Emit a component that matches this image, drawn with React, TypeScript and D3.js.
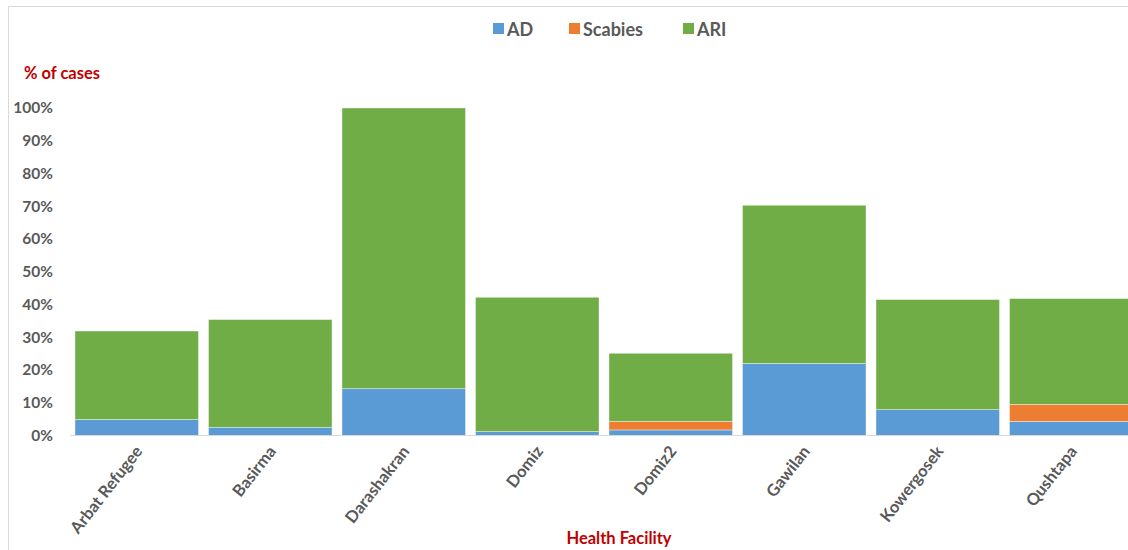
import React from "react";
import * as d3 from "d3";

const facilities = ["Arbat Refugee", "Basirma", "Darashakran", "Domiz", "Domiz2", "Gawilan", "Kowergosek", "Qushtapa"];
const adValues = [4.9, 2.5, 14.3, 1.2, 1.7, 22.0, 7.9, 4.3];
const scabiesValues = [0, 0, 0, 0, 2.6, 0, 0, 5.2];
const ariValues = [27.0, 32.9, 85.7, 41.0, 20.8, 48.3, 33.6, 32.3];
const seriesNames = ["AD", "Scabies", "ARI"];
const seriesColors = ["#5b9bd5", "#ed7d31", "#70ad47"];
const yTicks = [0, 10, 20, 30, 40, 50, 60, 70, 80, 90, 100];

const W = 1128;
const H = 550;
const FONT = "Lato, 'Open Sans', sans-serif";

export default function App() {
  const x = d3
    .scaleBand<string>()
    .domain(facilities)
    .range([70, 1138])
    .paddingInner(0.075)
    .paddingOuter(0.0375);
  const y = d3.scaleLinear().domain([0, 100]).range([435.5, 108]);

  const rows = facilities.map((f, i) => ({
    facility: f,
    AD: adValues[i],
    Scabies: scabiesValues[i],
    ARI: ariValues[i],
  }));
  const stacked = d3.stack<any>().keys(seriesNames)(rows);

  const legendX = [493, 569, 683];

  return (
    <div style={{ position: "fixed", left: 0, top: 0, width: W, height: H, background: "#fff" }}>
      <svg width={W} height={H} style={{ display: "block", fontFamily: FONT }}>
        <rect x={0} y={0} width={W} height={H} fill="#fff" />
        <path d={`M8.5,${H} V6.5 H${W}`} fill="none" stroke="#d9d9d9" strokeWidth={1} />

        {/* legend */}
        {seriesNames.map((s, i) => (
          <g key={s}>
            <rect x={legendX[i]} y={23} width={11} height={11} fill={seriesColors[i]} />
            <text x={legendX[i] + 14} y={35.5} fontSize={18} fontWeight={700} fill="#595959">
              {s}
            </text>
          </g>
        ))}

        {/* y axis title */}
        <text x={24} y={79} fontSize={16.5} fontWeight={700} fill="#c00000">
          % of cases
        </text>

        {/* y tick labels */}
        {yTicks.map((t) => (
          <text
            key={t}
            x={53}
            y={y(t)}
            dy="0.35em"
            textAnchor="end"
            fontSize={15.5}
            fontWeight={700}
            fill="#595959"
          >
            {`${t}%`}
          </text>
        ))}

        {/* stacked bars */}
        {stacked.map((layer, si) => (
          <g key={layer.key} fill={seriesColors[si]}>
            {layer.map((d, i) => {
              const h = y(d[0]) - y(d[1]);
              if (h <= 0) return null;
              return (
                <rect
                  key={i}
                  x={x(facilities[i])}
                  y={y(d[1])}
                  width={x.bandwidth()}
                  height={h}
                  stroke="#ffffff"
                  strokeOpacity={0.5}
                  strokeWidth={0.75}
                />
              );
            })}
          </g>
        ))}

        {/* category axis line */}
        <line x1={70} x2={W} y1={435.5} y2={435.5} stroke="#d9d9d9" strokeWidth={1} />

        {/* category labels */}
        {facilities.map((f) => {
          const cx = (x(f) as number) + x.bandwidth() / 2 + 2;
          const cy = 448;
          return (
            <text
              key={f}
              transform={`translate(${cx},${cy}) rotate(-52)`}
              textAnchor="end"
              dy="0.35em"
              fontSize={16.5}
              fontWeight={700}
              fill="#595959"
            >
              {f}
            </text>
          );
        })}

        {/* x axis title */}
        <text x={619} y={544} textAnchor="middle" fontSize={16.5} fontWeight={700} fill="#c00000">
          Health Facility
        </text>
      </svg>
    </div>
  );
}
